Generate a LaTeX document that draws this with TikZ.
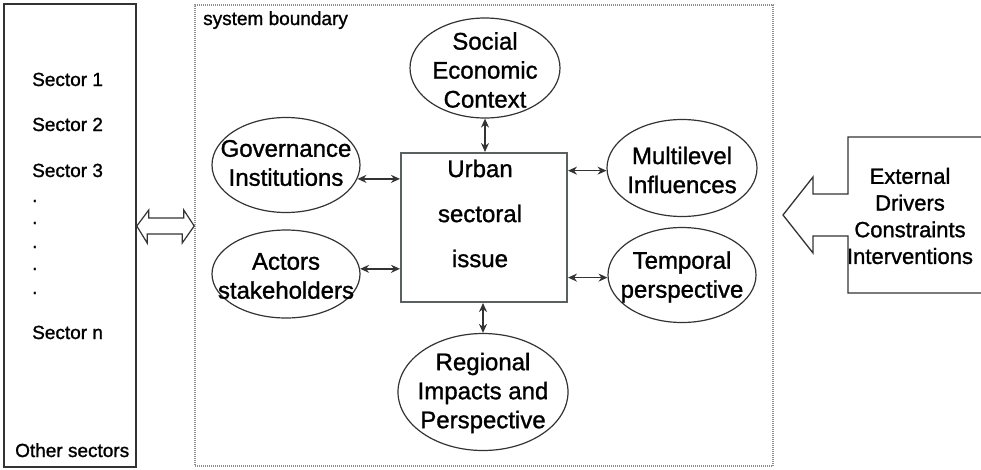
\documentclass[tikz,border=0pt]{standalone}
\usepackage{fontspec}
\setmainfont{Liberation Sans}[BoldFont={Liberation Sans}, BoldFeatures={FakeBold=1.2}]
\usetikzlibrary{shapes.geometric,arrows.meta,calc}
\definecolor{linecol}{HTML}{333333}
\definecolor{boxcol}{HTML}{5A5F60}
\definecolor{dotcol}{HTML}{8A9090}
\tikzset{
  ell/.style={draw=linecol, line width=1.2pt, ellipse, inner sep=0pt},
  etext/.style={align=center, inner sep=0pt, font=\fontsize{24}{29}\selectfont\bfseries},
  stext/.style={anchor=base west, inner sep=0pt, font=\fontsize{19}{22}\selectfont\bfseries},
  conn/.style={line width=1.5pt, draw=linecol, {Stealth[length=9pt,width=8pt]}-{Stealth[length=9pt,width=8pt]}},
}
\begin{document}
\begin{tikzpicture}[x=1pt,y=-1pt]
\useasboundingbox (0,0) rectangle (981,469);
% left box
\node[draw=linecol, line width=1.5pt, minimum width=132pt, minimum height=463pt, inner sep=0pt] (others) at (70,235.5) {};
\node[stext] (s1) at (32,86) {Sector 1};
\node[stext] (s2) at (32,131) {Sector 2};
\node[stext] (s3) at (32,177) {Sector 3};
\node[stext] (d1) at (32,202) {.};
\node[stext] (d2) at (32,224) {.};
\node[stext] (d3) at (32,248) {.};
\node[stext] (d4) at (32,270) {.};
\node[stext] (d5) at (32,294) {.};
\node[stext] (sn) at (32,339) {Sector n};
\node[stext] (os) at (15,457) {Other sectors};
% system boundary
\node[draw=dotcol, line width=1.6pt, dash pattern=on 1pt off 1pt, minimum width=578pt, minimum height=461pt, inner sep=0pt] (sysb) at (484,235.5) {};
\node[stext] (sbl) at (203,25) {system boundary};
% hollow double arrow
\coordinate (hl) at (others.east |- 0,226);
\coordinate (hr) at (sysb.west |- 0,226);
\draw[draw=linecol, line width=1.2pt, fill=white, line join=miter]
  (hl) -- ++(12,-16) -- ++(0,8) -- ++(35,0) -- ++(0,-8) -- (hr)
  -- ++(-12,17) -- ++(0,-9) -- ++(-35,0) -- ++(0,9) -- cycle;
% center box
\node[draw=boxcol, line width=2pt, minimum width=166pt, minimum height=149pt, inner sep=0pt] (box) at (484,227.5) {};
\node[align=center, inner sep=0pt, font=\fontsize{24}{45}\selectfont\bfseries] (boxt) at ($(box.center)+(-4,-14)$) {Urban\\sectoral\\issue};
% ellipses
\node[ell, minimum width=150pt, minimum height=100pt] (social) at (485,68) {};
\node[etext] (socialt) at ($(social.center)+(0,2)$) {Social\\Economic\\Context};
\node[ell, minimum width=148pt, minimum height=95pt] (gov) at (286,165) {};
\node[etext] (govt) at ($(gov.center)+(0,-2)$) {Governance\\Institutions};
\node[ell, minimum width=148pt, minimum height=88pt] (actors) at (286,274) {};
\node[etext] (actorst) at ($(actors.center)+(0,2)$) {Actors\\stakeholders};
\node[ell, minimum width=150pt, minimum height=97pt] (multi) at (682,168) {};
\node[etext] (multit) at ($(multi.center)+(0,2)$) {Multilevel\\Influences};
\node[ell, minimum width=148pt, minimum height=95pt] (temporal) at (682,275) {};
\node[etext] (temporalt) at ($(temporal.center)+(0,2)$) {Temporal\\perspective};
\node[ell, minimum width=170pt, minimum height=117pt] (regional) at (483,392) {};
\node[etext] (regionalt) at ($(regional.center)+(0,1)$) {Regional\\Impacts and\\Perspective};
% connectors
\draw[conn] (social.south) -- (social.south |- box.north);
\draw[conn] (regional.north) -- (regional.north |- box.south);
\draw[conn] (gov.-11) -- (gov.-11 -| box.west);
\draw[conn] (actors.4) -- (actors.4 -| box.west);
\draw[conn] (multi.182) -- (multi.182 -| box.east);
\draw[conn] (temporal.182) -- (temporal.182 -| box.east);
% external drivers
\draw[draw=linecol, line width=1.3pt, line join=miter]
  (985,137) -- (848,137) -- (848,194) -- (813,194) -- (813,177) -- (783,215)
  -- (813,253) -- (813,236) -- (848,236) -- (848,293) -- (985,293);
\node[align=center, inner sep=0pt, font=\fontsize{22}{26.7}\selectfont\bfseries] (ext) at (910,216) {External\\Drivers\\Constraints\\Interventions};
\end{tikzpicture}
\end{document}
